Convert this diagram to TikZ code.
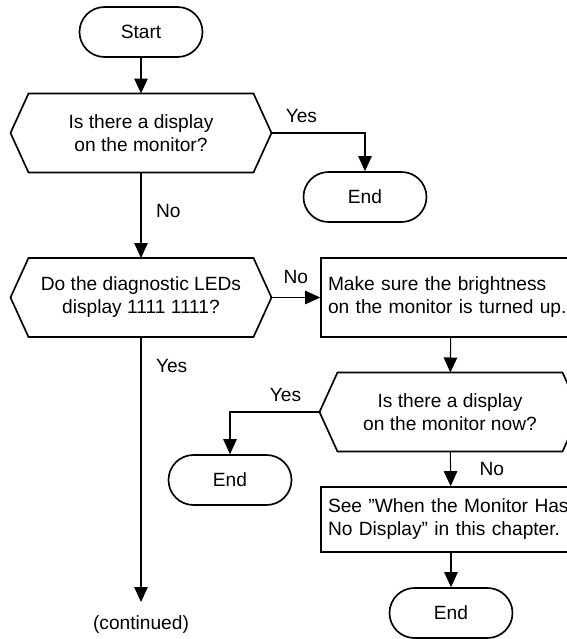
\documentclass[tikz,border=0pt]{standalone}
\usepackage{fontspec}
\setmainfont{Liberation Sans}
\usetikzlibrary{arrows.meta}
\usetikzlibrary{positioning}
\usetikzlibrary{calc}
\tikzset{
  >={Triangle[width=0.27cm, length=0.3cm]},
  outline/.style={draw=black, line width=0.95pt}
}

\begin{document}
\begin{tikzpicture}[
    font=\fontsize{10.9}{13.1}\selectfont,
    terminal/.style={outline, rectangle, rounded corners=0.5cm,
                     minimum width=2.46cm, minimum height=1cm},
    decision/.style={rectangle, outer sep=0pt, align=center,
                     minimum width=5.22cm, minimum height=1.58cm},
    process/.style={outline, rectangle, align=left, inner xsep=0.14cm,
                    text width=4.92cm, minimum height=#1},
    arrow/.style={->, line width=0.6pt, draw=black},
    label/.style={inner sep=2pt}
]
\useasboundingbox (0,0) rectangle (11.34,-12.78);

% Main column
\node[terminal] (start) at (2.82,-0.64) {Start};
\node[decision] (q1) at (2.82,-2.66) {Is there a display\\on the monitor?};
\node[decision] (q2) at (2.82,-5.95) {Do the diagnostic LEDs\\display 1111 1111?};
\coordinate (cont) at (2.82,-12.04);
\node (contlabel) at (2.82,-12.5) {(continued)};

% End for the first question
\node[terminal] (end1) at (7.30,-3.94) {End};

% Brightness branch
\node[process=1.58cm] (bright) at (9.02,-5.95) {Make sure the brightness\\on the monitor is turned up.};
\node[decision] (q3) at (9.0,-8.24) {Is there a display\\on the monitor now?};
\node[terminal] (end2) at (4.60,-9.60) {End};
\node[process=1.3cm] (nodisp) at (9.02,-10.39)
  {See \symbol{34}When the Monitor Has\\No Display\symbol{34} in this chapter.};
\node[terminal] (end3) at (9.02,-12.26) {End};

% Hexagon outlines for the questions
\foreach \q in {q1,q2,q3}
  \draw[outline] (\q.west) -- ($(\q.north west)+(0.36,0)$)
    -- ($(\q.north east)+(-0.36,0)$) -- (\q.east)
    -- ($(\q.south east)+(-0.36,0)$) -- ($(\q.south west)+(0.36,0)$) -- cycle;

% Arrows
\draw[arrow] (start) -- (q1);
\draw[arrow] (q1.east) -| node[label, pos=0.16, above=0.12cm] {Yes} (end1);
\draw[arrow] (q1) -- node[label, pos=0.45, right=0.22cm] {No} (q2);
\draw[arrow] (q2.east) -- node[label, above=0.2cm] {No} (bright.west);
\draw[arrow] (q2) -- node[label, pos=0.11, right=0.22cm] {Yes} (cont);

\draw[arrow] (bright) -- (q3);
\draw[arrow] (q3.west) -| node[label, pos=0.19, above=0.12cm] {Yes} (end2);
\draw[arrow] (q3) -- node[label, right=0.5cm] {No} (nodisp);
\draw[arrow] (nodisp) -- (end3);

\end{tikzpicture}
\end{document}
